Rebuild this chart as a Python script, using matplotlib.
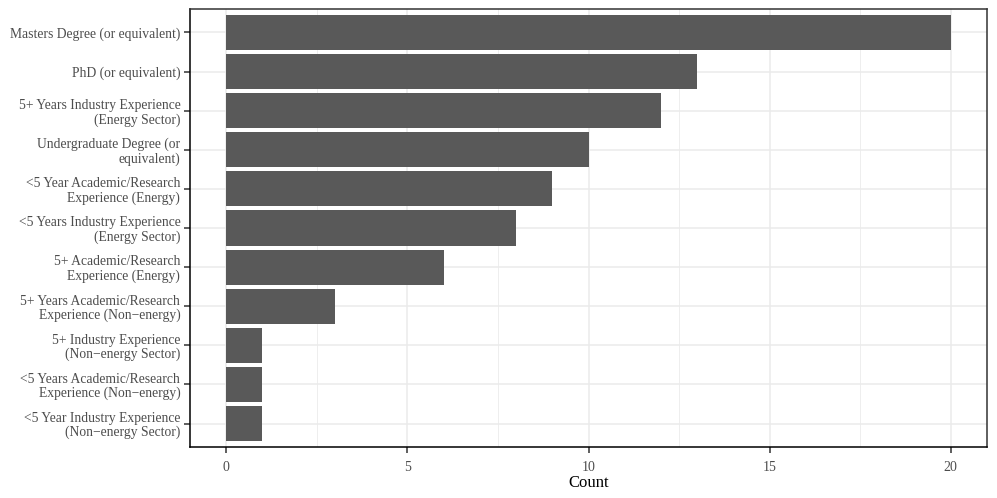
import matplotlib
matplotlib.use("Agg")
import matplotlib.pyplot as plt
import numpy as np

# categories listed top to bottom
categories = [
    "Masters Degree (or equivalent)",
    "PhD (or equivalent)",
    "5+ Years Industry Experience\n(Energy Sector)",
    "Undergraduate Degree (or\nequivalent)",
    "<5 Year Academic/Research\nExperience (Energy)",
    "<5 Years Industry Experience\n(Energy Sector)",
    "5+ Academic/Research\nExperience (Energy)",
    "5+ Years Academic/Research\nExperience (Non\u2212energy)",
    "5+ Industry Experience\n(Non\u2212energy Sector)",
    "<5 Years Academic/Research\nExperience (Non\u2212energy)",
    "<5 Year Industry Experience\n(Non\u2212energy Sector)",
]
counts = [20, 13, 12, 10, 9, 8, 6, 3, 1, 1, 1]
x_ticks = [0, 5, 10, 15, 20]

plt.rcParams['font.family'] = ['Liberation Serif', 'DejaVu Serif']

fig = plt.figure(figsize=(9.97, 4.98), dpi=100)
ax = fig.add_axes([190 / 997, 1 - 447 / 498, 797 / 997, 438 / 498])

n = len(categories)
ypos = np.arange(n, 0, -1)

ax.barh(ypos, counts, height=0.9, color="#595959", zorder=3)

ax.set_xlim(-1, 21)
ax.set_ylim(0.4, n + 0.6)
ax.set_xticks(x_ticks)
ax.set_xticks([2.5, 7.5, 12.5, 17.5], minor=True)
ax.set_yticks(ypos)
ax.set_yticklabels(categories, fontsize=9.8, color="#4d4d4d", linespacing=1.1)
ax.set_xticklabels([str(t) for t in x_ticks], fontsize=10, color="#4d4d4d")

ax.grid(which="major", color="#ebebeb", linewidth=1.1, zorder=0)
ax.grid(which="minor", axis="x", color="#ebebeb", linewidth=0.6, zorder=0)
ax.tick_params(which="major", length=4, width=1.1, color="#333333")
ax.tick_params(axis="x", which="major", pad=6)
ax.tick_params(axis="y", which="major", pad=3)
ax.tick_params(which="minor", length=0)

for side in ["top", "right"]:
    ax.spines[side].set_color("#333333")
    ax.spines[side].set_linewidth(1.1)
for side in ["left", "bottom"]:
    ax.spines[side].set_color("black")
    ax.spines[side].set_linewidth(1.1)

ax.set_xlabel("Count", fontsize=12, labelpad=1)

plt.savefig("out.png", dpi=100)
